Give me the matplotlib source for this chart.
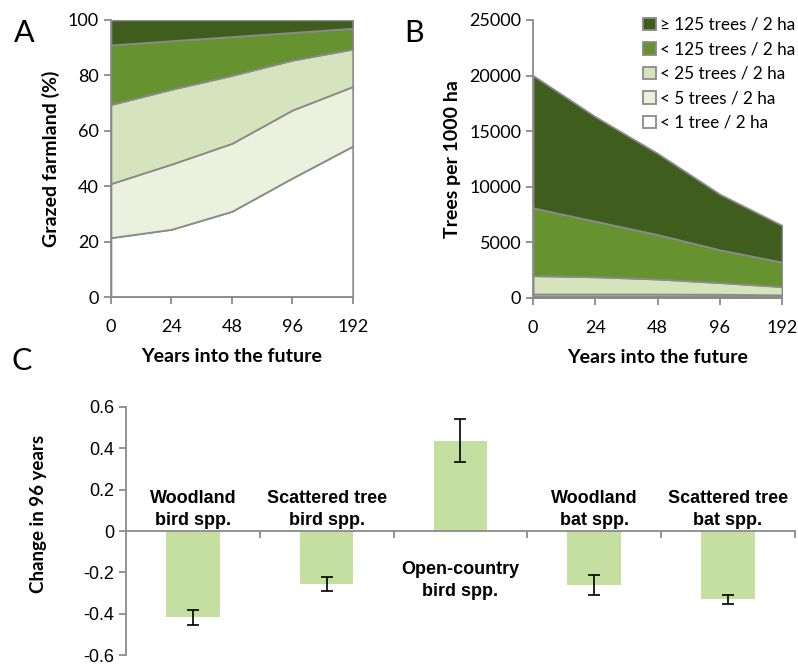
import matplotlib.pyplot as plt
import numpy as np

# -----------------------Data-----------------------
years = ['0', '24', '48', '96', '192']
layer_names = ['< 1 tree / 2 ha', '< 5 trees / 2 ha', '< 25 trees / 2 ha',
               '< 125 trees / 2 ha', '\u2265 125 trees / 2 ha']

# panel A: share of grazed farmland (%) per class, bottom to top
farm_lt1 = [21.5, 24.5, 31.0, 43.0, 54.5]
farm_lt5 = [19.5, 23.5, 24.5, 24.5, 21.5]
farm_lt25 = [28.5, 27.0, 24.5, 18.0, 13.5]
farm_lt125 = [21.5, 17.5, 14.0, 10.0, 7.5]
farm_ge125 = [9.0, 7.5, 6.0, 4.5, 3.0]

# panel B: trees per 1000 ha per class, bottom to top
trees_lt1 = [150, 150, 150, 150, 120]
trees_lt5 = [200, 200, 200, 180, 150]
trees_lt25 = [1650, 1550, 1350, 1050, 750]
trees_lt125 = [6100, 5000, 4000, 2950, 2200]
trees_ge125 = [11900, 9400, 7300, 5000, 3300]

# panel C: change in 96 years
groups = ['Woodland\nbird spp.', 'Scattered tree\nbird spp.', 'Open-country\nbird spp.',
          'Woodland\nbat spp.', 'Scattered tree\nbat spp.']
change = [-0.416, -0.255, 0.437, -0.262, -0.330]
err_lo = [0.039, 0.034, 0.104, 0.048, 0.024]
err_hi = [0.036, 0.031, 0.104, 0.047, 0.021]

# -----------------------Fig configuration-----------------------
plt.rcParams['font.family'] = ['Lato', 'DejaVu Sans']
narrow = ['Liberation Sans Narrow', 'Liberation Sans', 'DejaVu Sans']
tick_size = 13
label_size = 14
gray_line = '#8a8a8a'
colors = ['#ffffff', '#ebf1de', '#d5e4bd', '#66922f', '#3f5d1d']
bar_green = '#c4df9f'

fig = plt.figure(figsize=(7.98, 6.65), dpi=100)
ax_a = fig.add_axes([0.139, 0.553, 0.303, 0.417])
ax_b = fig.add_axes([0.668, 0.552, 0.312, 0.418])
ax_c = fig.add_axes([0.158, 0.015, 0.838, 0.373])

x = np.arange(len(years))


def stack_panel(ax, layers):
    bottom = np.zeros(len(years))
    for vals, col, name in zip(layers, colors, layer_names):
        top = bottom + np.array(vals)
        ax.fill_between(x, bottom, top, facecolor=col, edgecolor=gray_line,
                        linewidth=1.3, label=name)
        bottom = top
    ax.set_xlim(0, len(years) - 1)
    ax.set_xticks(x)
    ax.set_xticklabels(years, fontsize=tick_size)
    for s in ['top', 'right']:
        ax.spines[s].set_visible(False)
    for s in ['left', 'bottom']:
        ax.spines[s].set_color(gray_line)
        ax.spines[s].set_linewidth(1.3)
    ax.tick_params(axis='both', colors=gray_line, labelcolor='black', length=5, width=1.3,
                   labelsize=tick_size)
    ax.tick_params(axis='x', pad=11)
    ax.set_xlabel('Years into the future', fontsize=label_size, fontweight='bold', labelpad=9)


# -----------------------Panel A-----------------------
stack_panel(ax_a, [farm_lt1, farm_lt5, farm_lt25, farm_lt125, farm_ge125])
ax_a.set_ylim(0, 100)
ax_a.set_yticks(range(0, 101, 20))
ax_a.set_ylabel('Grazed farmland (%)', fontsize=label_size, fontweight='bold', labelpad=6)

# -----------------------Panel B-----------------------
stack_panel(ax_b, [trees_lt1, trees_lt5, trees_lt25, trees_lt125, trees_ge125])
ax_b.set_ylim(0, 25000)
ax_b.set_yticks(range(0, 25001, 5000))
ax_b.set_ylabel('Trees per 1000 ha', fontsize=label_size, fontweight='bold', labelpad=6)
handles, labels = ax_b.get_legend_handles_labels()
fig.legend(handles[::-1], labels[::-1], loc='upper left', bbox_to_anchor=(0.797, 0.985),
           frameon=False, fontsize=12.3, handlelength=0.75, handleheight=0.75,
           handletextpad=0.25, labelspacing=0.5, borderaxespad=0)

# -----------------------Panel C-----------------------
xc = np.arange(len(groups))
ax_c.bar(xc, change, width=0.4, color=bar_green)
ax_c.errorbar(xc, change, yerr=[err_lo, err_hi], fmt='none', ecolor='black',
              elinewidth=1.2, capsize=4, capthick=1.2)
ax_c.set_xlim(-0.5, len(groups) - 0.5)
ax_c.set_ylim(-0.6, 0.6)
yt = [0.6, 0.4, 0.2, 0, -0.2, -0.4, -0.6]
ax_c.set_yticks(yt)
ax_c.set_yticklabels([('%g' % v) for v in yt], fontsize=tick_size, family=narrow)
ax_c.spines['bottom'].set_position(('data', 0))
for s in ['top', 'right']:
    ax_c.spines[s].set_visible(False)
for s in ['left', 'bottom']:
    ax_c.spines[s].set_color(gray_line)
    ax_c.spines[s].set_linewidth(1.3)
ax_c.set_xticks(np.arange(len(groups)) + 0.5)
ax_c.set_xticklabels([])
ax_c.tick_params(axis='both', colors=gray_line, labelcolor='black', length=5, width=1.3)
ax_c.set_ylabel('Change in 96 years', fontsize=13.5, fontweight='bold')
ax_c.yaxis.set_label_coords(-0.118, 0.57)
for i, (g, v) in enumerate(zip(groups, change)):
    ypos = 0.105 if v < 0 else -0.24
    ax_c.text(i, ypos, g, ha='center', va='center', fontsize=13, fontweight='bold',
              family=narrow, linespacing=1.4)

# panel letters
fig.text(0.018, 0.972, 'A', fontsize=22, va='top')
fig.text(0.507, 0.972, 'B', fontsize=22, va='top')
fig.text(0.015, 0.478, 'C', fontsize=22, va='top')

plt.savefig('out.png', dpi=100)
